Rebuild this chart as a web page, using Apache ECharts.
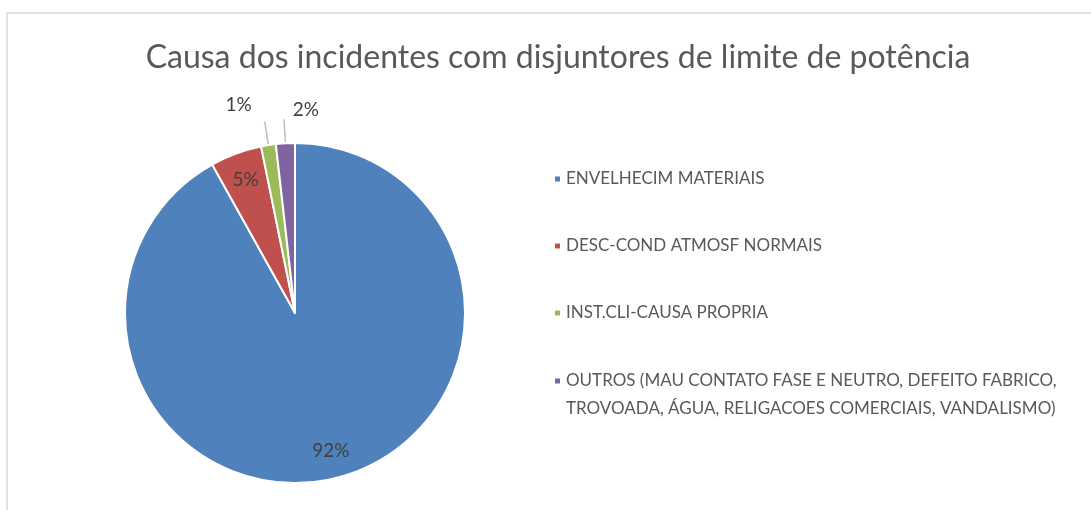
<!DOCTYPE html>
<html lang="pt">
  <head>
    <meta charset="UTF-8" />
    <title>Causa dos incidentes</title>
    <script src="https://cdn.jsdelivr.net/npm/echarts@6/dist/echarts.min.js"></script>
    <style>
      html, body { margin: 0; padding: 0; background: #fff; }
      #main { width: 1091px; height: 510px; }
    </style>
  </head>
  <body>
    <div id="main"></div>
    <script>
      // dados (percentagens)
      var categorias = [
        "ENVELHECIM MATERIAIS",
        "DESC-COND ATMOSF NORMAIS",
        "INST.CLI-CAUSA PROPRIA",
        "OUTROS (MAU CONTATO FASE E NEUTRO, DEFEITO FABRICO, TROVOADA, ÁGUA, RELIGACOES COMERCIAIS, VANDALISMO)"
      ];
      var valores = [91.9, 4.9, 1.4, 1.8];
      var cores = ["#4F81BD", "#C0504D", "#9BBB59", "#8064A2"];

      var raio = 170;
      var centro = [295, 313];
      var fonte = "Lato, 'Open Sans', sans-serif";

      var myChart = echarts.init(document.getElementById("main"));

      // fatias com rótulo de fora (pequenas)
      var fatias = categorias.map(function (nome, i) {
        var fora = i >= 2;
        return {
          name: nome,
          value: valores[i],
          itemStyle: { color: cores[i] },
          label: { show: fora },
          labelLine: { show: fora }
        };
      });
      // rótulos de dentro (grandes) numa série transparente por cima
      var rotulos = categorias.map(function (nome, i) {
        return {
          name: nome,
          value: valores[i],
          label: { show: i < 2 }
        };
      });

      var estiloLegenda = {
        fontFamily: fonte,
        fontSize: 17,
        lineHeight: 28,
        color: "#595959"
      };

      var option = {
        animation: false,
        color: cores,
        graphic: [
          {
            type: "rect",
            shape: { x: 7, y: 13, width: 1200, height: 600 },
            style: { fill: "none", stroke: "#d9d9d9", lineWidth: 1.5 },
            silent: true
          }
        ],
        title: {
          text: "Causa dos incidentes com disjuntores de limite de potência",
          left: 553,
          top: 37,
          textAlign: "center",
          textStyle: {
            fontFamily: fonte,
            fontWeight: "normal",
            fontSize: 32,
            color: "#595959"
          }
        },
        legend: [
          {
            orient: "vertical",
            left: 553,
            top: 165,
            padding: 0,
            itemGap: 39,
            itemWidth: 7,
            itemHeight: 7,
            icon: "rect",
            data: categorias.slice(0, 3),
            textStyle: estiloLegenda
          },
          {
            orient: "vertical",
            left: 553,
            top: 339,
            padding: 0,
            itemWidth: 7,
            itemHeight: 7,
            icon: "rect",
            data: categorias.slice(3),
            // linha vazia em cima para alinhar a 1a linha com o quadrado
            formatter: function (nome) {
              return "\n" + nome.replace(", TROVOADA", ",\nTROVOADA");
            },
            textStyle: estiloLegenda
          }
        ],
        series: [
          {
            type: "pie",
            center: centro,
            radius: [0, raio],
            startAngle: 90,
            clockwise: true,
            avoidLabelOverlap: false,
            itemStyle: { borderColor: "#fff", borderWidth: 2 },
            label: {
              position: "outside",
              formatter: "{d}%",
              fontFamily: fonte,
              fontSize: 19,
              color: "#404040"
            },
            labelLine: {
              length: 24,
              length2: 0,
              lineStyle: { color: "#bfbfbf", width: 1.5 }
            },
            labelLayout: function (p) {
              if (p.dataIndex === 3) {
                return { dx: 40, dy: -9, hideOverlap: false };
              }
              return { dx: -8, dy: -17, hideOverlap: false };
            },
            percentPrecision: 0,
            emphasis: { disabled: true },
            data: fatias
          },
          {
            type: "pie",
            center: centro,
            radius: [raio * 0.64, raio],
            startAngle: 90,
            clockwise: true,
            silent: true,
            itemStyle: { color: "transparent", borderWidth: 0 },
            label: {
              position: "inside",
              formatter: "{d}%",
              fontFamily: fonte,
              fontSize: 19,
              color: "#404040"
            },
            labelLine: { show: false },
            percentPrecision: 0,
            emphasis: { disabled: true },
            data: rotulos
          }
        ]
      };
      option && myChart.setOption(option);
    </script>
  </body>
</html>
